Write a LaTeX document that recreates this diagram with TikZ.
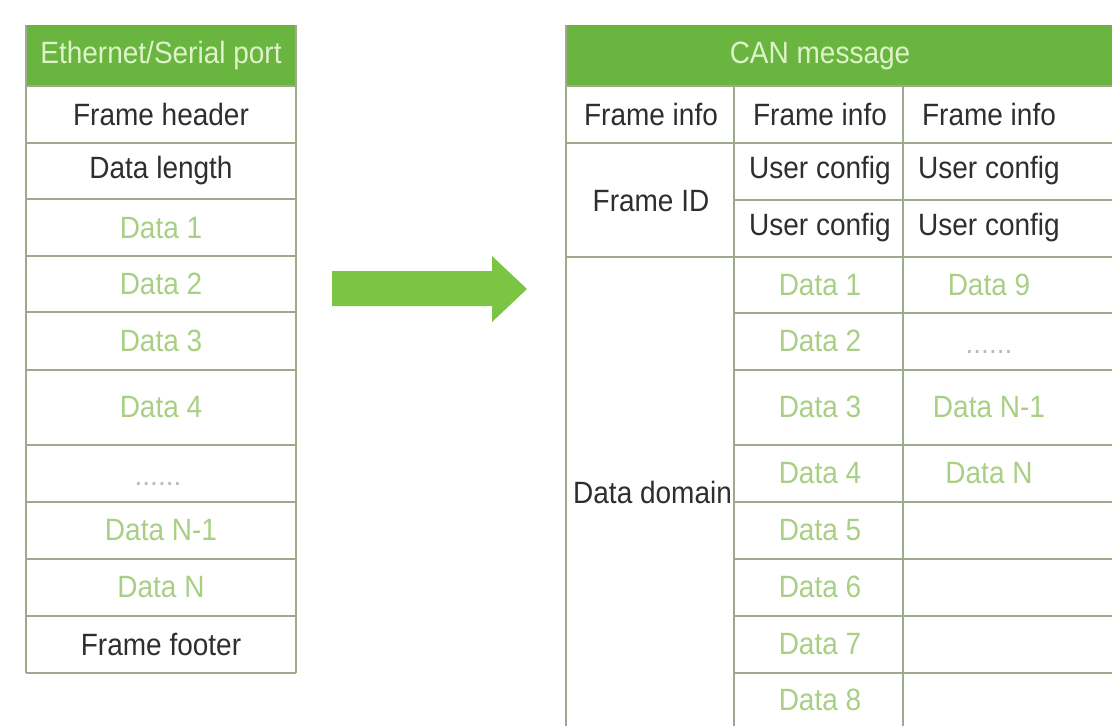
\documentclass[tikz,border=0pt]{standalone}
\usepackage{fontspec}
\setmainfont{Liberation Sans}
\definecolor{hdrfill}{HTML}{6AB440}
\definecolor{hdrtext}{HTML}{DDF4C8}
\definecolor{gridline}{HTML}{9DAA8C}
\definecolor{datatext}{HTML}{A8CF84}
\definecolor{plaintext}{HTML}{2E2E2E}
\definecolor{dotstext}{HTML}{B9BDB0}
\definecolor{arrowfill}{HTML}{7CC544}
\newcommand\celltxt[1]{\scalebox{1}[1.1]{#1}}
\tikzset{
  cell/.style={inner sep=0pt, font=\fontsize{28}{30}\selectfont},
  hdr/.style={cell, text=hdrtext},
  plain/.style={cell, text=plaintext},
  datum/.style={cell, text=datatext},
  dots/.style={cell, text=dotstext},
  rule/.style={draw=gridline, line width=1.6pt},
}
\begin{document}
\begin{tikzpicture}[x=1pt, y=-1pt]
\useasboundingbox (0,0) rectangle (1112,726);

% ---------- Ethernet / serial frame ----------
\fill[hdrfill] (26,25) rectangle (296,86);
\foreach \yy in {86,143,199,256,312,370,445,502,559,616,673}
  \draw[rule] (26,\yy) -- (296,\yy);
\draw[rule] (26,25) -- (26,673);
\draw[rule] (296,25) -- (296,673);

\node[hdr]   (eth)  at (161,56)  {\celltxt{Ethernet/Serial port}};
\node[plain] (fh)   at (161,114) {\celltxt{Frame header}};
\node[plain] (dl)   at (161,171) {\celltxt{Data length}};
\node[datum] (ld1)  at (161,228) {\celltxt{Data 1}};
\node[datum] (ld2)  at (161,284) {\celltxt{Data 2}};
\node[datum] (ld3)  at (161,341) {\celltxt{Data 3}};
\node[datum] (ld4)  at (161,407) {\celltxt{Data 4}};
\node[dots]  (ldd)  at (158,484) {......};
\node[datum] (ldn1) at (161,530) {\celltxt{Data N-1}};
\node[datum] (ldn)  at (161,587) {\celltxt{Data N}};
\node[plain] (ff)   at (161,644) {\celltxt{Frame footer}};

% ---------- conversion arrow ----------
\fill[arrowfill] (332,271) -- (492,271) -- (492,256) -- (527,289)
  -- (492,322) -- (492,306) -- (332,306) -- cycle;

% ---------- CAN message ----------
\fill[hdrfill] (566,25) rectangle (1112,86);
\foreach \yy in {86,143,257}
  \draw[rule] (566,\yy) -- (1112,\yy);
\foreach \yy in {200,313,370,445,502,559,616,673}
  \draw[rule] (734,\yy) -- (1112,\yy);
\draw[rule] (566,25) -- (566,726);
\draw[rule] (734,86) -- (734,726);
\draw[rule] (903,86) -- (903,726);

\node[hdr]   (can) at (820,56) {\celltxt{CAN message}};
\node[plain] (fi1) at (651,114) {\celltxt{Frame info}};
\node[plain] (fi2) at (820,114) {\celltxt{Frame info}};
\node[plain] (fi3) at (989,114) {\celltxt{Frame info}};
\node[plain] (fid) at (651,201) {\celltxt{Frame ID}};
\node[plain] (uc1) at (820,171) {\celltxt{User config}};
\node[plain] (uc2) at (989,171) {\celltxt{User config}};
\node[plain] (uc3) at (820,228) {\celltxt{User config}};
\node[plain] (uc4) at (989,228) {\celltxt{User config}};
\node[plain, anchor=base west] (dd) at (573,503) {\celltxt{Data domain}};

\node[datum] (cd1) at (820,285) {\celltxt{Data 1}};
\node[datum] (cd2) at (820,341) {\celltxt{Data 2}};
\node[datum] (cd3) at (820,407) {\celltxt{Data 3}};
\node[datum] (cd4) at (820,473) {\celltxt{Data 4}};
\node[datum] (cd5) at (820,530) {\celltxt{Data 5}};
\node[datum] (cd6) at (820,587) {\celltxt{Data 6}};
\node[datum] (cd7) at (820,644) {\celltxt{Data 7}};
\node[datum] (cd8) at (820,700) {\celltxt{Data 8}};

\node[datum] (cd9)  at (989,285) {\celltxt{Data 9}};
\node[dots]  (cdd)  at (989,352) {......};
\node[datum] (cdn1) at (989,407) {\celltxt{Data N-1}};
\node[datum] (cdn)  at (989,473) {\celltxt{Data N}};
\end{tikzpicture}
\end{document}
